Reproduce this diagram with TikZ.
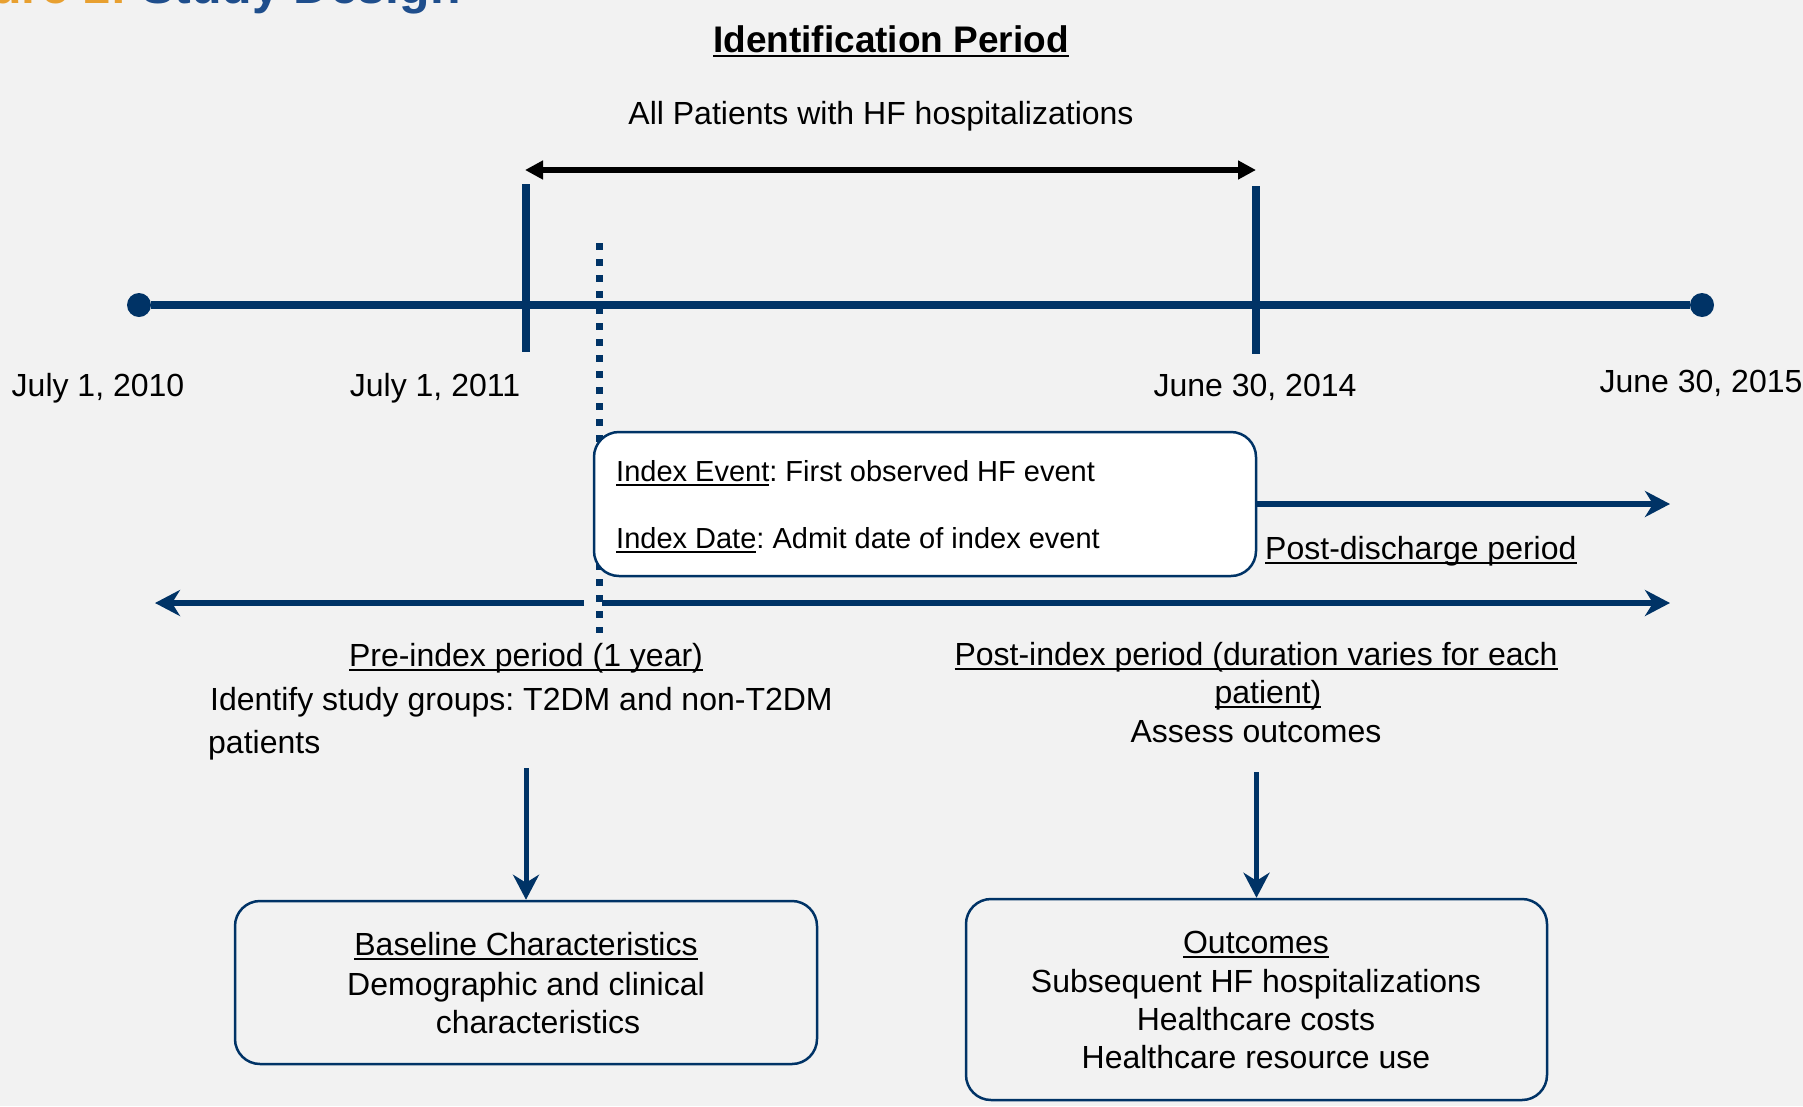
\documentclass[tikz,border=0pt]{standalone}
\usepackage{fontspec}
\setmainfont{Liberation Sans}
\usetikzlibrary{arrows.meta}
\definecolor{navy}{RGB}{0,51,102}
\definecolor{bgc}{RGB}{242,242,242}
\definecolor{figor}{RGB}{232,160,48}
\definecolor{figbl}{RGB}{31,78,140}
\newsavebox\ulbox
\newcommand\myul[1]{\sbox\ulbox{#1}\rlap{\rule[-4.5pt]{\wd\ulbox}{2pt}}\usebox\ulbox}
\frenchspacing
\begin{document}
\begin{tikzpicture}[x=1pt,y=-1pt,
  txt/.style={font=\fontsize{32}{38}\selectfont, inner sep=0pt, anchor=base, text=black},
  itxt/.style={txt, anchor=base west, font=\fontsize{29}{35}\selectfont},
  roundbox/.style={draw=navy, line width=2.5pt, rounded corners=25pt, inner sep=0pt},
  tdot/.style={circle, fill=navy, inner sep=0pt, minimum size=24pt},
  navytip/.tip={Stealth[length=25pt,width=26pt,inset=8pt]},
  blacktip/.tip={Triangle[length=18pt,width=18pt]},
  navyline/.style={draw=navy, line width=5.5pt},
  tickline/.style={draw=navy, line width=8pt}]
\useasboundingbox (0,0) rectangle (1803,1106);
\fill[bgc] (0,0) rectangle (1803,1106);
\clip (0,0) rectangle (1803,1106);

% cut-off figure title
\node[anchor=base west, inner sep=0pt, font=\fontsize{50}{60}\selectfont\bfseries] (fig) at (-84,3)
  {\textcolor{figor}{Figure 1:} \textcolor{figbl}{Study Design}};

% headings
\node[txt, font=\fontsize{37}{44}\selectfont\bfseries] (idp) at (891,52) {\myul{Identification Period}};
\node[txt] (allp) at (881,124) {All Patients with HF hospitalizations};

% identification arrow
\coordinate (ia) at (525,170);
\coordinate (ib) at (1256,170);
\draw[line width=6pt, black, blacktip-blacktip] (ia) -- (ib);

% timeline
\node[tdot] (c0) at (139,305) {};
\node[tdot] (c1) at (1702,305) {};
\draw[tickline] (c0) -- (c1);
\coordinate (k1a) at (526,184);
\coordinate (k1b) at (526,352);
\coordinate (k2a) at (1256,186);
\coordinate (k2b) at (1256,354);
\draw[tickline] (k1a) -- (k1b);
\draw[tickline] (k2a) -- (k2b);

% dates
\node[txt] (d1) at (98,396) {July 1, 2010};
\node[txt] (d2) at (435,396) {July 1, 2011};
\node[txt] (d3) at (1255,396) {June 30, 2014};
\node[txt] (d4) at (1701,392) {June 30, 2015};

% dotted index line
\coordinate (dta) at (599,243);
\coordinate (dtb) at (599,633);
\draw[navy, line width=7pt, dash pattern=on 7pt off 9pt] (dta) -- (dtb);

% index box
\node[roundbox, fill=white, minimum width=662pt, minimum height=144pt] (idx) at (925,504) {};
\node[itxt] (ie) at (616,481) {\myul{Index Event}: First observed HF event};
\node[itxt] (idd) at (616,548) {\myul{Index Date}: Admit date of index event};

% post-discharge
\coordinate (pdt) at (1670,504);
\draw[navyline, -navytip] (idx.east) -- (pdt);
\node[txt, anchor=base west] (pd) at (1265,559) {\myul{Post-discharge period}};

% pre/post index arrows
\coordinate (pra) at (584,603);
\coordinate (prb) at (155,603);
\coordinate (poa) at (602,603);
\coordinate (pob) at (1670,603);
\draw[navyline, -navytip] (pra) -- (prb);
\draw[navyline, -navytip] (poa) -- (pob);

% pre-index text
\node[txt] (pre) at (526,666) {\myul{Pre-index period (1 year)}};
\node[txt, anchor=base west] (ide) at (210,710) {Identify study groups: T2DM and non-T2DM};
\node[txt, anchor=base west] (pat) at (208,753) {patients};

% post-index text
\node[txt] (po1) at (1256,665) {\myul{Post-index period (duration varies for each}};
\node[txt] (po2) at (1268,703) {\myul{patient)}};
\node[txt] (ass) at (1256,742) {Assess outcomes};

% bottom boxes
\node[roundbox, minimum width=582pt, minimum height=163pt] (bl) at (526,982.5) {};
\node[roundbox, minimum width=581pt, minimum height=201pt] (oc) at (1256.5,999.5) {};

\coordinate (a1) at (526,768);
\coordinate (a2) at (1256.5,772);
\draw[navyline, line width=5pt, -navytip] (a1) -- (bl.north);
\draw[navyline, line width=5pt, -navytip] (a2) -- (oc.north);

\node[txt] (b1) at (526,955) {\myul{Baseline Characteristics}};
\node[txt] (b2) at (526,995) {Demographic and clinical};
\node[txt] (b3) at (538,1033) {characteristics};

\node[txt] (o1) at (1256,953) {\myul{Outcomes}};
\node[txt] (o2) at (1256,992) {Subsequent HF hospitalizations};
\node[txt] (o3) at (1256,1030) {Healthcare costs};
\node[txt] (o4) at (1256,1068) {Healthcare resource use};
\end{tikzpicture}
\end{document}
